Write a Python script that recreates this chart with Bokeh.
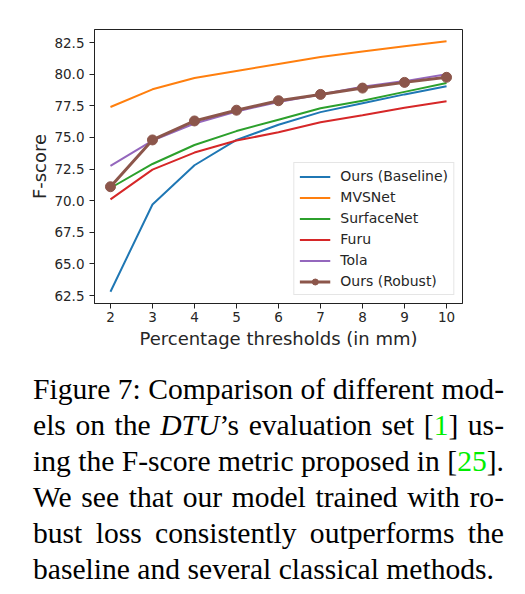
from bokeh.plotting import figure
from bokeh.models import (Range1d, FixedTicker, NumeralTickFormatter, Legend, LegendItem, Div)
from bokeh.layouts import column
from bokeh.embed import file_html
from bokeh.resources import INLINE

thresholds = [2, 3, 4, 5, 6, 7, 8, 9, 10]
ours_baseline = [62.8, 69.7, 72.8, 74.8, 76.0, 77.0, 77.7, 78.4, 79.05]
mvsnet = [77.4, 78.8, 79.7, 80.25, 80.8, 81.35, 81.8, 82.2, 82.6]
surfacenet = [71.0, 72.9, 74.4, 75.5, 76.4, 77.3, 77.9, 78.6, 79.3]
furu = [70.1, 72.45, 73.8, 74.75, 75.4, 76.2, 76.75, 77.35, 77.85]
tola = [72.75, 74.75, 76.1, 77.05, 77.8, 78.4, 79.0, 79.45, 80.0]
ours_robust = [71.1, 74.8, 76.3, 77.15, 77.9, 78.4, 78.9, 79.35, 79.75]

series_names = ["Ours (Baseline)", "MVSNet", "SurfaceNet", "Furu", "Tola", "Ours (Robust)"]
series_colors = ["#1f77b4", "#ff7f0e", "#2ca02c", "#d62728", "#9467bd", "#8c564b"]
y_ticks = [62.5, 65.0, 67.5, 70.0, 72.5, 75.0, 77.5, 80.0, 82.5]

caption_lines = [
    'Figure 7: Comparison of different mod-',
    'els on the <i>DTU</i>\u2019s evaluation set [<span style="color:#00ee00">1</span>] us-',
    'ing the F-score metric proposed in [<span style="color:#00ee00">25</span>].',
    'We see that our model trained with ro-',
    'bust loss consistently outperforms the',
    'baseline and several classical methods.',
]

FONT = "DejaVu Sans"

p = figure(frame_width=368, frame_height=274,
           x_range=Range1d(1.62, 10.38), y_range=Range1d(61.87, 83.53),
           output_backend="svg", toolbar_location=None,
           min_border_left=94, min_border_right=16, min_border_top=29, min_border_bottom=40)
p.background_fill_color = "white"
p.border_fill_color = "white"
p.outline_line_color = "#222222"
p.outline_line_width = 1
p.xgrid.visible = False
p.ygrid.visible = False

for ax in (p.xaxis[0], p.yaxis[0]):
    ax.axis_line_color = "#222222"
    ax.major_tick_line_color = "#222222"
    ax.major_tick_out = 5
    ax.major_tick_in = 0
    ax.minor_tick_line_color = None
    ax.major_label_text_font = FONT
    ax.major_label_text_font_size = "13.5px"
    ax.major_label_text_color = "#262626"
    ax.axis_label_text_font = FONT
    ax.axis_label_text_font_size = "18px"
    ax.axis_label_text_font_style = "normal"
    ax.axis_label_text_color = "#262626"

p.xaxis.ticker = FixedTicker(ticks=thresholds)
p.yaxis.ticker = FixedTicker(ticks=y_ticks)
p.yaxis.formatter = NumeralTickFormatter(format="0.0")
p.xaxis.axis_label = "Percentage thresholds (in mm)"
p.yaxis.axis_label = "F-score"
p.xaxis.major_label_standoff = 3
p.xaxis.axis_label_standoff = 3
p.yaxis.major_label_standoff = 5
p.yaxis.axis_label_standoff = 1

all_series = [ours_baseline, mvsnet, surfacenet, furu, tola]
items = []
for name, color, vals in zip(series_names[:5], series_colors[:5], all_series):
    r = p.line(thresholds, vals, line_color=color, line_width=2)
    items.append(LegendItem(label=name, renderers=[r]))

rl = p.line(thresholds, ours_robust, line_color=series_colors[5], line_width=3)
rs = p.scatter(thresholds, ours_robust, size=10, fill_color=series_colors[5],
               line_color=series_colors[5])
items.append(LegendItem(label=series_names[5], renderers=[rl, rs]))

legend = Legend(items=items, location="bottom_right")
legend.margin = 8
legend.padding = 5
legend.spacing = 5
legend.glyph_width = 31
legend.glyph_height = 15
legend.label_height = 16
legend.label_standoff = 10
legend.label_text_font = FONT
legend.label_text_font_size = "14px"
legend.label_text_color = "#262626"
legend.border_line_color = "#cccccc"
legend.background_fill_alpha = 0.85
p.add_layout(legend, "center")

html_lines = "".join(
    '<div style="text-align:justify;text-align-last:%s;white-space:nowrap;">%s</div>'
    % ("justify" if i < len(caption_lines) - 1 else "left", line)
    for i, line in enumerate(caption_lines)
)
caption = Div(
    text='<div style="font-family:\'Liberation Serif\',\'Times New Roman\',serif;'
         'font-size:29.6px;line-height:36px;color:#000;width:471px;">' + html_lines + '</div>',
    width=480, margin=(20, 0, 0, 33))

layout = column(p, caption)
open("out.html", "w").write(file_html(layout, INLINE))
